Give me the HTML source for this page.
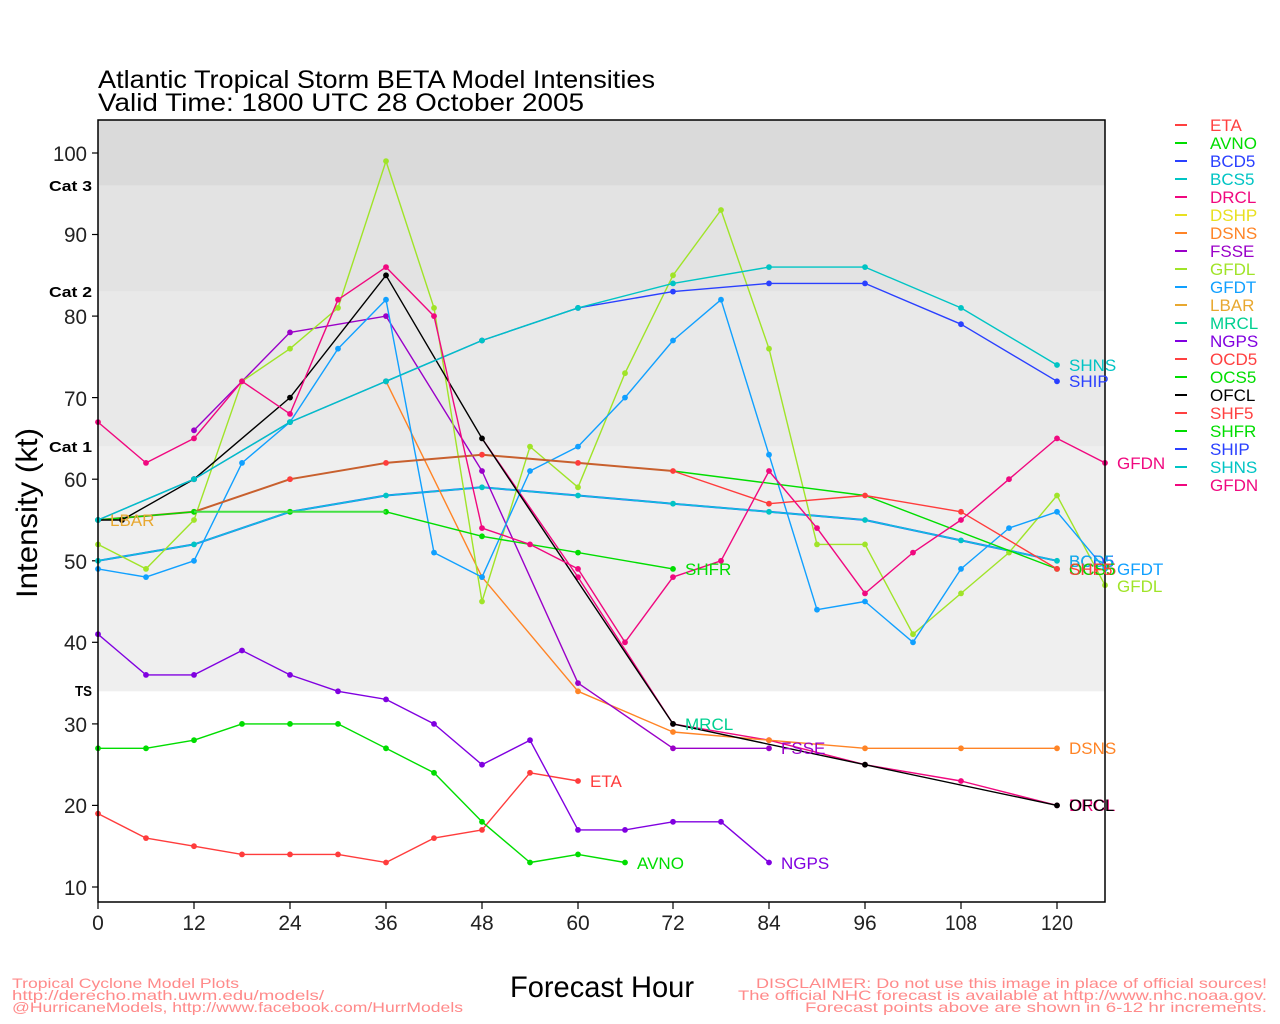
<!DOCTYPE html>
<html><head><meta charset="utf-8"><style>
html,body{margin:0;padding:0;background:#fff;}
svg{display:block;}
text{font-family:"Liberation Sans",sans-serif;}
</style></head><body>
<svg width="1280" height="1024" viewBox="0 0 1280 1024" xmlns="http://www.w3.org/2000/svg">
<defs>
<marker id="mRed" markerUnits="userSpaceOnUse" markerWidth="8" markerHeight="8" refX="4" refY="4"><circle cx="4" cy="4" r="2.9" fill="#ff3c3c"/></marker>
<marker id="mGreen" markerUnits="userSpaceOnUse" markerWidth="8" markerHeight="8" refX="4" refY="4"><circle cx="4" cy="4" r="2.9" fill="#00dd00"/></marker>
<marker id="mCyan" markerUnits="userSpaceOnUse" markerWidth="8" markerHeight="8" refX="4" refY="4"><circle cx="4" cy="4" r="2.9" fill="#00c4c4"/></marker>
<marker id="mBlue" markerUnits="userSpaceOnUse" markerWidth="8" markerHeight="8" refX="4" refY="4"><circle cx="4" cy="4" r="2.9" fill="#2a40ff"/></marker>
<marker id="mPink" markerUnits="userSpaceOnUse" markerWidth="8" markerHeight="8" refX="4" refY="4"><circle cx="4" cy="4" r="2.9" fill="#f0087f"/></marker>
<marker id="mOrange" markerUnits="userSpaceOnUse" markerWidth="8" markerHeight="8" refX="4" refY="4"><circle cx="4" cy="4" r="2.9" fill="#ff8426"/></marker>
<marker id="mFsse" markerUnits="userSpaceOnUse" markerWidth="8" markerHeight="8" refX="4" refY="4"><circle cx="4" cy="4" r="2.9" fill="#9a00c8"/></marker>
<marker id="mNgps" markerUnits="userSpaceOnUse" markerWidth="8" markerHeight="8" refX="4" refY="4"><circle cx="4" cy="4" r="2.9" fill="#8000e0"/></marker>
<marker id="mLime" markerUnits="userSpaceOnUse" markerWidth="8" markerHeight="8" refX="4" refY="4"><circle cx="4" cy="4" r="2.9" fill="#a0e428"/></marker>
<marker id="mSky" markerUnits="userSpaceOnUse" markerWidth="8" markerHeight="8" refX="4" refY="4"><circle cx="4" cy="4" r="2.9" fill="#10a0ff"/></marker>
<marker id="mBlack" markerUnits="userSpaceOnUse" markerWidth="8" markerHeight="8" refX="4" refY="4"><circle cx="4" cy="4" r="2.9" fill="#000"/></marker>
</defs>

<!-- Title -->
<text x="98" y="88" font-size="25" fill="#000" textLength="557" lengthAdjust="spacingAndGlyphs">Atlantic Tropical Storm BETA Model Intensities</text>
<text x="98" y="111" font-size="25" fill="#000" textLength="486" lengthAdjust="spacingAndGlyphs">Valid Time: 1800 UTC 28 October 2005</text>

<!-- background bands -->
<rect x="98" y="120" width="1007" height="65.6" fill="#dadada"/>
<rect x="98" y="185.6" width="1007" height="106" fill="#e3e3e3"/>
<rect x="98" y="291.6" width="1007" height="155" fill="#e9e9e9"/>
<rect x="98" y="446.6" width="1007" height="244.7" fill="#efefef"/>

<!-- category labels -->
<g font-size="15" font-weight="bold" fill="#000" text-anchor="end">
<text x="92" y="191" textLength="43" lengthAdjust="spacingAndGlyphs">Cat 3</text>
<text x="92" y="297" textLength="43" lengthAdjust="spacingAndGlyphs">Cat 2</text>
<text x="92" y="452" textLength="43" lengthAdjust="spacingAndGlyphs">Cat 1</text>
<text x="92" y="696" textLength="17" lengthAdjust="spacingAndGlyphs">TS</text>
</g>

<!-- y ticks -->
<g stroke="#000" stroke-width="1.2">
<line x1="92" y1="887" x2="98" y2="887"/><line x1="92" y1="805.4" x2="98" y2="805.4"/>
<line x1="92" y1="723.9" x2="98" y2="723.9"/><line x1="92" y1="642.3" x2="98" y2="642.3"/>
<line x1="92" y1="560.8" x2="98" y2="560.8"/><line x1="92" y1="479.2" x2="98" y2="479.2"/>
<line x1="92" y1="397.6" x2="98" y2="397.6"/><line x1="92" y1="316.1" x2="98" y2="316.1"/>
<line x1="92" y1="234.5" x2="98" y2="234.5"/><line x1="92" y1="153" x2="98" y2="153"/>
</g>
<g font-size="21" fill="#222" text-anchor="end">
<text x="87" y="895" textLength="23" lengthAdjust="spacingAndGlyphs">10</text>
<text x="87" y="813" textLength="23" lengthAdjust="spacingAndGlyphs">20</text>
<text x="87" y="732" textLength="23" lengthAdjust="spacingAndGlyphs">30</text>
<text x="87" y="650" textLength="23" lengthAdjust="spacingAndGlyphs">40</text>
<text x="87" y="569" textLength="23" lengthAdjust="spacingAndGlyphs">50</text>
<text x="87" y="487" textLength="23" lengthAdjust="spacingAndGlyphs">60</text>
<text x="87" y="406" textLength="23" lengthAdjust="spacingAndGlyphs">70</text>
<text x="87" y="324" textLength="23" lengthAdjust="spacingAndGlyphs">80</text>
<text x="87" y="242" textLength="23" lengthAdjust="spacingAndGlyphs">90</text>
<text x="87" y="161" textLength="34" lengthAdjust="spacingAndGlyphs">100</text>
</g>

<!-- x ticks -->
<g stroke="#000" stroke-width="1.2">
<line x1="98" y1="902" x2="98" y2="909"/><line x1="194" y1="902" x2="194" y2="909"/>
<line x1="290" y1="902" x2="290" y2="909"/><line x1="386" y1="902" x2="386" y2="909"/>
<line x1="482" y1="902" x2="482" y2="909"/><line x1="578" y1="902" x2="578" y2="909"/>
<line x1="673" y1="902" x2="673" y2="909"/><line x1="769" y1="902" x2="769" y2="909"/>
<line x1="865" y1="902" x2="865" y2="909"/><line x1="961" y1="902" x2="961" y2="909"/>
<line x1="1057" y1="902" x2="1057" y2="909"/>
</g>
<g font-size="21" fill="#222" text-anchor="middle">
<text x="98" y="930">0</text>
<text x="194" y="930">12</text>
<text x="290" y="930">24</text>
<text x="386" y="930">36</text>
<text x="482" y="930">48</text>
<text x="578" y="930">60</text>
<text x="673" y="930">72</text>
<text x="769" y="930">84</text>
<text x="865" y="930">96</text>
<text x="961" y="930" textLength="32" lengthAdjust="spacingAndGlyphs">108</text>
<text x="1057" y="930" textLength="32" lengthAdjust="spacingAndGlyphs">120</text>
</g>

<!-- axis titles -->
<text transform="translate(37,598) rotate(-90)" font-size="30" fill="#000" textLength="170" lengthAdjust="spacingAndGlyphs">Intensity (kt)</text>
<text x="510" y="997" font-size="30" fill="#000" textLength="184" lengthAdjust="spacingAndGlyphs">Forecast Hour</text>

<!-- series -->
<g fill="none" stroke-width="1.4" stroke-linejoin="round">
<!-- ETA -->
<polyline stroke="#ff3c3c" marker-start="url(#mRed)" marker-mid="url(#mRed)" marker-end="url(#mRed)" points="98,813.6 146,838.1 194,846.2 242,854.4 290,854.4 338,854.4 386,862.5 434,838.1 482,829.9 530,772.8 578,781"/>
<!-- AVNO -->
<polyline stroke="#00dd00" marker-start="url(#mGreen)" marker-mid="url(#mGreen)" marker-end="url(#mGreen)" points="98,748.3 146,748.3 194,740.2 242,723.9 290,723.9 338,723.9 386,748.3 434,772.8 482,821.8 530,862.5 578,854.4 625,862.5"/>
<!-- BCD5/BCS5 -->
<polyline stroke="#2a40ff" stroke-width="2" points="98,560.8 194,544.4 290,511.8 386,495.5 482,487.3 578,495.5 673,503.7 769,511.8 865,520 961,540.4 1057,560.8"/>
<polyline stroke="#10bedc" stroke-width="1.6" marker-start="url(#mCyan)" marker-mid="url(#mCyan)" marker-end="url(#mCyan)" points="98,560.8 194,544.4 290,511.8 386,495.5 482,487.3 578,495.5 673,503.7 769,511.8 865,520 961,540.4 1057,560.8"/>
<!-- DRCL -->
<polyline stroke="#f0087f" marker-mid="url(#mPink)" marker-end="url(#mPink)" points="482,438.4 578,577.1 673,723.9 769,740.2 865,764.7 961,781 1057,805.4"/>
<!-- DSNS -->
<polyline stroke="#ff8426" marker-start="url(#mOrange)" marker-mid="url(#mOrange)" marker-end="url(#mOrange)" points="386,381.3 482,577.1 578,691.3 673,732 769,740.2 865,748.3 961,748.3 1057,748.3"/>
<!-- FSSE -->
<polyline stroke="#9a00c8" marker-start="url(#mFsse)" marker-mid="url(#mFsse)" marker-end="url(#mFsse)" points="194,430.3 290,332.4 386,316.1 482,471 578,683.1 673,748.3 769,748.3"/>
<!-- GFDL -->
<polyline stroke="#a0e428" marker-start="url(#mLime)" marker-mid="url(#mLime)" marker-end="url(#mLime)" points="98,544.4 146,568.9 194,520 242,381.3 290,348.7 338,307.9 386,161.1 434,307.9 482,601.5 530,446.6 578,487.3 625,373.2 673,275.3 721,210 769,348.7 817,544.4 865,544.4 913,634.2 961,593.4 1009,552.6 1057,495.5 1105,585.2"/>
<!-- GFDT -->
<polyline stroke="#10a0ff" marker-start="url(#mSky)" marker-mid="url(#mSky)" marker-end="url(#mSky)" points="98,568.9 146,577.1 194,560.8 242,462.9 290,422.1 338,348.7 386,299.7 434,552.6 482,577.1 530,471 578,446.6 625,397.6 673,340.5 721,299.7 769,454.7 817,609.7 865,601.5 913,642.3 961,568.9 1009,528.1 1057,511.8 1105,568.9"/>
<!-- NGPS -->
<polyline stroke="#8000e0" marker-start="url(#mNgps)" marker-mid="url(#mNgps)" marker-end="url(#mNgps)" points="98,634.2 146,674.9 194,674.9 242,650.5 290,674.9 338,691.3 386,699.4 434,723.9 482,764.7 530,740.2 578,829.9 625,829.9 673,821.8 721,821.8 769,862.5"/>
<!-- OCS5 / OCD5 / SHF5 -->
<polyline stroke="#00dd00" marker-end="url(#mGreen)" points="673,471 865,495.5 1057,568.9"/>
<polyline stroke="#ff3c3c" marker-mid="url(#mRed)" marker-end="url(#mRed)" points="673,471 769,503.7 865,495.5 961,511.8 1057,568.9"/>
<polyline stroke="#c8602e" stroke-width="2" marker-start="url(#mRed)" marker-mid="url(#mRed)" marker-end="url(#mRed)" points="98,520 194,511.8 290,479.2 386,462.9 482,454.7 578,462.9 673,471"/>
<!-- SHFR -->
<polyline stroke="#00dd00" marker-start="url(#mGreen)" marker-mid="url(#mGreen)" marker-end="url(#mGreen)" points="98,520 194,511.8 290,511.8 386,511.8 482,536.3 578,552.6 673,568.9"/>
<polyline stroke="#44e044" stroke-width="2" points="194,511.8 290,511.8 386,511.8"/>
<!-- OFCL -->
<polyline stroke="#000" marker-mid="url(#mBlack)" marker-end="url(#mBlack)" points="98,520 122,520 194,479.2 290,397.6 386,275.3 482,438.4 673,723.9 865,764.7 1057,805.4"/>
<!-- SHIP -->
<polyline stroke="#2a40ff" marker-start="url(#mBlue)" marker-mid="url(#mBlue)" marker-end="url(#mBlue)" points="98,520 194,479.2 290,422.1 386,381.3 482,340.5 578,307.9 673,291.6 769,283.4 865,283.4 961,324.2 1057,381.3"/>
<!-- SHNS -->
<polyline stroke="#00c4c4" marker-start="url(#mCyan)" marker-mid="url(#mCyan)" marker-end="url(#mCyan)" points="98,520 194,479.2 290,422.1 386,381.3 482,340.5 578,307.9 673,283.4 769,267.1 865,267.1 961,307.9 1057,365"/>
<!-- GFDN -->
<polyline stroke="#f0087f" marker-start="url(#mPink)" marker-mid="url(#mPink)" marker-end="url(#mPink)" points="98,422.1 146,462.9 194,438.4 242,381.3 290,413.9 338,299.7 386,267.1 434,316.1 482,528.1 530,544.4 578,568.9 625,642.3 673,577.1 721,560.8 769,471 817,528.1 865,593.4 913,552.6 961,520 1009,479.2 1057,438.4 1105,462.9"/>
</g>
<!-- LBAR/BCS5 start point -->
<circle cx="98" cy="520" r="2.9" fill="#00c4c4"/>
<circle cx="122" cy="520" r="2.9" fill="#000"/>

<!-- plot border -->
<rect x="98" y="120" width="1007" height="782" fill="none" stroke="#000" stroke-width="1.5"/>

<!-- series labels -->
<g font-size="17">
<text x="110" y="526" fill="#e8a830">LBAR</text>
<text x="590" y="787" fill="#ff3c3c">ETA</text>
<text x="637" y="869" fill="#00dd00">AVNO</text>
<text x="781" y="869" fill="#8000e0">NGPS</text>
<text x="781" y="754" fill="#9a00c8">FSSE</text>
<text x="685" y="730" fill="#00d090">MRCL</text>
<text x="685" y="575" fill="#00dd00">SHFR</text>
<text x="1069" y="754" fill="#ff8426">DSNS</text>
<text x="1069" y="811" fill="#f0087f">DRCL</text>
<text x="1069" y="811" fill="#000">OFCL</text>
<text x="1069" y="371" fill="#00c4c4">SHNS</text>
<text x="1069" y="387" fill="#2a40ff">SHIP</text>
<text x="1069" y="567" fill="#2a40ff">BCD5</text>
<text x="1069" y="567" fill="#10b0e8">BCS5</text>
<text x="1069" y="575" fill="#ff3c3c">OCD5</text>
<text x="1069" y="575" fill="#00dd00">OCS5</text>
<text x="1069" y="575" fill="#ff3c3c">SHF5</text>
<text x="1117" y="575" fill="#10a0ff">GFDT</text>
<text x="1117" y="592" fill="#a0e428">GFDL</text>
<text x="1117" y="469" fill="#f0087f">GFDN</text>
</g>

<!-- legend -->
<g stroke-width="2">
<line x1="1175" y1="125" x2="1187" y2="125" stroke="#ff4040"/>
<line x1="1175" y1="143" x2="1187" y2="143" stroke="#00dd00"/>
<line x1="1175" y1="161" x2="1187" y2="161" stroke="#2a40ff"/>
<line x1="1175" y1="179" x2="1187" y2="179" stroke="#00c4c4"/>
<line x1="1175" y1="197" x2="1187" y2="197" stroke="#f0087f"/>
<line x1="1175" y1="215" x2="1187" y2="215" stroke="#e8e020"/>
<line x1="1175" y1="233" x2="1187" y2="233" stroke="#ff8426"/>
<line x1="1175" y1="251" x2="1187" y2="251" stroke="#9a00c8"/>
<line x1="1175" y1="269" x2="1187" y2="269" stroke="#a0e428"/>
<line x1="1175" y1="287" x2="1187" y2="287" stroke="#10a0ff"/>
<line x1="1175" y1="305" x2="1187" y2="305" stroke="#e8a830"/>
<line x1="1175" y1="323" x2="1187" y2="323" stroke="#00d090"/>
<line x1="1175" y1="341" x2="1187" y2="341" stroke="#8000e0"/>
<line x1="1175" y1="359" x2="1187" y2="359" stroke="#ff4040"/>
<line x1="1175" y1="377" x2="1187" y2="377" stroke="#00dd00"/>
<line x1="1175" y1="395" x2="1187" y2="395" stroke="#000"/>
<line x1="1175" y1="413" x2="1187" y2="413" stroke="#ff4040"/>
<line x1="1175" y1="431" x2="1187" y2="431" stroke="#00dd00"/>
<line x1="1175" y1="449" x2="1187" y2="449" stroke="#2a40ff"/>
<line x1="1175" y1="467" x2="1187" y2="467" stroke="#00c4c4"/>
<line x1="1175" y1="485" x2="1187" y2="485" stroke="#f0087f"/>
</g>
<g font-size="17">
<text x="1210" y="131" fill="#ff4040">ETA</text>
<text x="1210" y="149" fill="#00dd00">AVNO</text>
<text x="1210" y="167" fill="#2a40ff">BCD5</text>
<text x="1210" y="185" fill="#00c4c4">BCS5</text>
<text x="1210" y="203" fill="#f0087f">DRCL</text>
<text x="1210" y="221" fill="#e8e020">DSHP</text>
<text x="1210" y="239" fill="#ff8426">DSNS</text>
<text x="1210" y="257" fill="#9a00c8">FSSE</text>
<text x="1210" y="275" fill="#a0e428">GFDL</text>
<text x="1210" y="293" fill="#10a0ff">GFDT</text>
<text x="1210" y="311" fill="#e8a830">LBAR</text>
<text x="1210" y="329" fill="#00d090">MRCL</text>
<text x="1210" y="347" fill="#8000e0">NGPS</text>
<text x="1210" y="365" fill="#ff4040">OCD5</text>
<text x="1210" y="383" fill="#00dd00">OCS5</text>
<text x="1210" y="401" fill="#000">OFCL</text>
<text x="1210" y="419" fill="#ff4040">SHF5</text>
<text x="1210" y="437" fill="#00dd00">SHFR</text>
<text x="1210" y="455" fill="#2a40ff">SHIP</text>
<text x="1210" y="473" fill="#00c4c4">SHNS</text>
<text x="1210" y="491" fill="#f0087f">GFDN</text>
</g>

<!-- footer -->
<g font-size="14" fill="#ff8a8a">
<text x="12" y="988" textLength="227" lengthAdjust="spacingAndGlyphs">Tropical Cyclone Model Plots</text>
<text x="12" y="1000" textLength="312" lengthAdjust="spacingAndGlyphs">http://derecho.math.uwm.edu/models/</text>
<text x="12" y="1012" textLength="451" lengthAdjust="spacingAndGlyphs">@HurricaneModels, http://www.facebook.com/HurrModels</text>
<text x="756" y="988" textLength="511" lengthAdjust="spacingAndGlyphs">DISCLAIMER: Do not use this image in place of official sources!</text>
<text x="738" y="1000" textLength="529" lengthAdjust="spacingAndGlyphs">The official NHC forecast is available at http://www.nhc.noaa.gov.</text>
<text x="805" y="1012" textLength="462" lengthAdjust="spacingAndGlyphs">Forecast points above are shown in 6-12 hr increments.</text>
</g>
</svg>
</body></html>
